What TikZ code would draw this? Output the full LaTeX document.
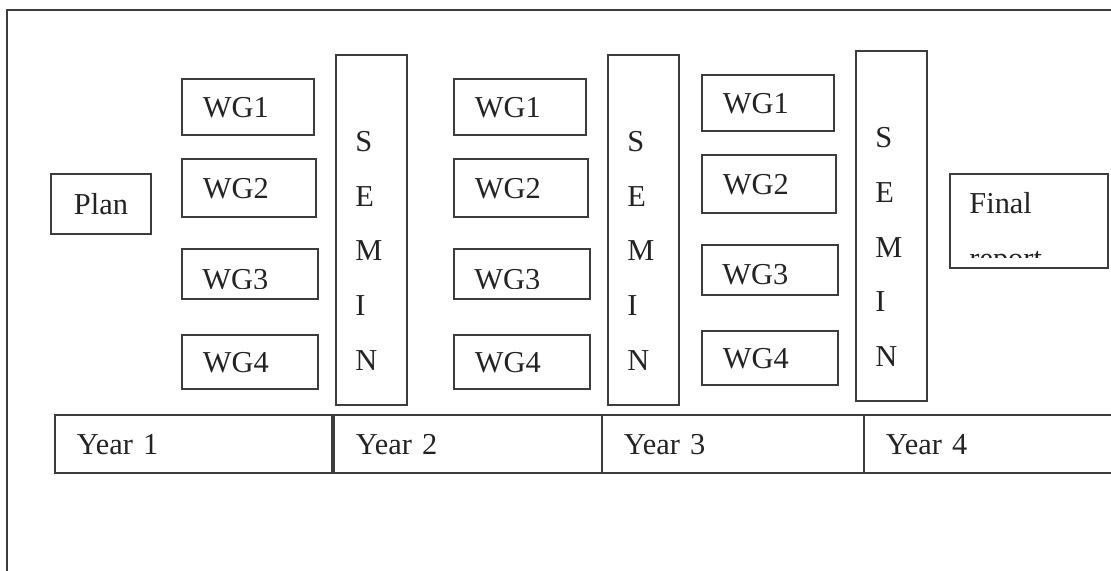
\documentclass[tikz,border=0pt]{standalone}
\usepackage{fontspec}
\setmainfont{Liberation Serif}
\usetikzlibrary{calc}
\definecolor{pline}{RGB}{60,60,60}
\definecolor{ptext}{RGB}{35,35,35}
\newcommand{\boxfont}{\fontsize{15.2pt}{18pt}\selectfont}
\tikzset{
  outerframe/.style={draw=pline,line width=0.9pt},
  lbl/.style={inner sep=0pt,font=\boxfont,text=ptext},
  plainbox/.style={draw=pline,line width=0.9pt,inner sep=0pt,font=\boxfont,text=ptext,
                   text height=11pt,text depth=0pt},
  wg/.style={plainbox,anchor=north west,inner xsep=10.5pt,text width=#1,align=left},
  year/.style={plainbox,anchor=north west,inner xsep=11pt,text width=#1,align=left,
               minimum height=29pt},
  semin/.style={draw=pline,line width=0.9pt,anchor=north west,
                minimum width=35.5pt,minimum height=175pt},
}

\begin{document}
\begin{tikzpicture}[x=0.5pt,y=-0.5pt]
  \useasboundingbox (0,0) rectangle (1111,571);
  \draw[outerframe] (7,10) rectangle (1140,600);
  \node[plainbox,minimum width=50pt,minimum height=30pt] (plan) at (101,204) {Plan};
  % three years of working groups, each closed by a seminar
  \foreach \c/\x/\dy in {a/181/0,b/453/0,c/701/-4}{
    \node[wg=45pt,minimum height=28pt] (\c1) at (\x,{78+\dy})  {WG1};
    \node[wg=46pt,minimum height=29pt] (\c2) at (\x,{158+\dy}) {WG2};
    \node[wg=47pt,minimum height=25pt] (\c3) at (\x,{248+\dy}) {};
    \begin{scope}
      \clip (\c3.north west) rectangle ([yshift=5.5pt]\c3.south east);
      \node[lbl,anchor=base west] (\c3t) at ({\x+21},{289+\dy}) {WG3};
    \end{scope}
    \node[wg=47pt,minimum height=27pt] (\c4) at (\x,{334+\dy}) {WG4};
    \node[semin] (s\c) at ({\x+154},{54+\dy}) {};
    \foreach \l [count=\i from 0] in {S,E,M,I,N}
      \node[lbl,anchor=base west] (s\c\i) at ({\x+174},{152+\dy+\i*54.5}) {\l};
  }
  % final report, text runs past the box
  \node[plainbox,anchor=north west,minimum width=79pt,minimum height=47pt] (fin) at (949,173) {};
  \begin{scope}
    \clip (fin.north west) rectangle ([yshift=5.5pt]fin.south east);
    \node[lbl,anchor=north west,align=left] (fint) at (969,192) {Final\\[9.5pt]report};
  \end{scope}
  % time line
  \node[year=116.5pt] (y1) at (54,414)  {Year 1};
  \node[year=112pt]   (y2) at (333,414) {Year 2};
  \node[year=109pt]   (y3) at (601,414) {Year 3};
  \node[year=114pt]   (y4) at (863,414) {Year 4};
\end{tikzpicture}
\end{document}
